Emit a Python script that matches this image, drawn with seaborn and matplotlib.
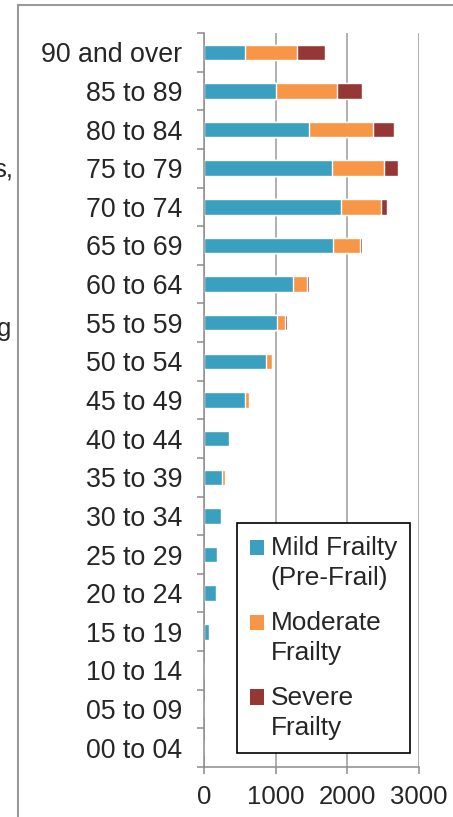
import numpy as np
import pandas as pd
import matplotlib

matplotlib.use("Agg")
import matplotlib.pyplot as plt
import seaborn as sns
from matplotlib.patches import Patch, Rectangle
from matplotlib.lines import Line2D
from matplotlib.legend_handler import HandlerPatch

age_groups = ["90 and over", "85 to 89", "80 to 84", "75 to 79", "70 to 74",
              "65 to 69", "60 to 64", "55 to 59", "50 to 54", "45 to 49",
              "40 to 44", "35 to 39", "30 to 34", "25 to 29", "20 to 24",
              "15 to 19", "10 to 14", "05 to 09", "00 to 04"]
mild = [573, 1002, 1464, 1795, 1921, 1809, 1249, 1026, 867, 578,
        345, 256, 233, 177, 168, 75, 10, 0, 0]
moderate = [732, 863, 904, 722, 559, 364, 196, 111, 79, 47,
            23, 33, 12, 5, 4, 2, 0, 0, 0]
severe = [383, 349, 285, 187, 84, 41, 28, 19, 3, 2,
          1, 1, 0, 0, 0, 0, 0, 0, 0]
series_names = ["Mild Frailty\n(Pre-Frail)", "Moderate\nFrailty", "Severe\nFrailty"]
colors = ["#3B9FBF", "#F79646", "#953735"]
x_ticks = [0, 1000, 2000, 3000]

sns.set_style("white")
plt.rcParams["font.family"] = ["Liberation Sans", "DejaVu Sans"]

df = pd.DataFrame({"age": age_groups, "mild": mild,
                   "moderate": moderate, "severe": severe})
df["c_mild"] = df["mild"]
df["c_mod"] = df["mild"] + df["moderate"]
df["c_sev"] = df["c_mod"] + df["severe"]


class OffsetSquare(HandlerPatch):
    # put the square next to the first line of a two-line label
    def __init__(self, shift=0.0, **kw):
        super().__init__(**kw)
        self.shift = shift

    def create_artists(self, legend, orig_handle, xdescent, ydescent,
                       width, height, fontsize, trans):
        r = Rectangle((-xdescent, -ydescent + self.shift * fontsize), width, height,
                      facecolor=orig_handle.get_facecolor(), edgecolor="none",
                      transform=trans)
        return [r]


fig = plt.figure(figsize=(4.53, 8.17), dpi=100)
ax = fig.add_axes([204 / 453, 1 - 767 / 817, (418.7 - 204) / 453, (767 - 33) / 817])

for col, c in zip(["c_sev", "c_mod", "c_mild"], colors[::-1]):
    sns.barplot(data=df, x=col, y="age", order=age_groups, color=c,
                width=0.4, orient="h", saturation=1, ax=ax)

ax.set_xlim(0, 3000)
ax.set_ylim(len(age_groups) - 0.5, -0.5)
ax.set_xlabel("")
ax.set_ylabel("")
ax.set_xticks(x_ticks)
ax.set_xticklabels([str(v) for v in x_ticks], fontsize=18.5)
ax.set_yticks(range(len(age_groups)))
ax.set_yticklabels(age_groups, fontsize=19.3)
ax.set_yticks(np.arange(-0.5, len(age_groups)), minor=True)
ax.tick_params(axis="y", which="major", length=0, pad=15.5)
ax.tick_params(axis="y", which="minor", length=5, width=1.1, color="#8c8c8c", left=True)
ax.tick_params(axis="x", which="major", length=5, width=1.1, color="#8c8c8c",
               pad=8, bottom=True)
ax.grid(axis="x", color="#9a9a9a", linewidth=1.1)
ax.set_axisbelow(True)
for s in ["top", "right"]:
    ax.spines[s].set_visible(False)
for s in ["left", "bottom"]:
    ax.spines[s].set_color("#8c8c8c")
    ax.spines[s].set_linewidth(1.1)

handles = [Patch(facecolor=c) for c in colors]
leg = ax.legend(handles, series_names, loc="upper left",
                bbox_to_anchor=(0.1537, 0.3324), borderaxespad=0,
                fontsize=18.9, frameon=True, fancybox=False,
                edgecolor="black", handlelength=0.53, handleheight=0.53,
                handletextpad=0.25, labelspacing=0.78, borderpad=0.5,
                handler_map={Patch: OffsetSquare(shift=0.6)})
for t in leg.get_texts():
    t.set_linespacing(1.33)
leg.get_frame().set_linewidth(1.2)
leg.get_frame().set_alpha(1)

# page frame and cut-off text from the surrounding document
fig.add_artist(Line2D([17.5 / 453, 17.5 / 453], [0, 1 - 4.5 / 817],
                      transform=fig.transFigure, color="#999999", linewidth=1.5))
fig.add_artist(Line2D([17.5 / 453, 1], [1 - 4.5 / 817, 1 - 4.5 / 817],
                      transform=fig.transFigure, color="#999999", linewidth=1.5))
fig.text(13 / 453, 1 - 176 / 817, "s,", ha="right", va="baseline", fontsize=18.5)
fig.text(11 / 453, 1 - 336 / 817, "g", ha="right", va="baseline", fontsize=18.5)

fig.savefig("out.png", dpi=100)
